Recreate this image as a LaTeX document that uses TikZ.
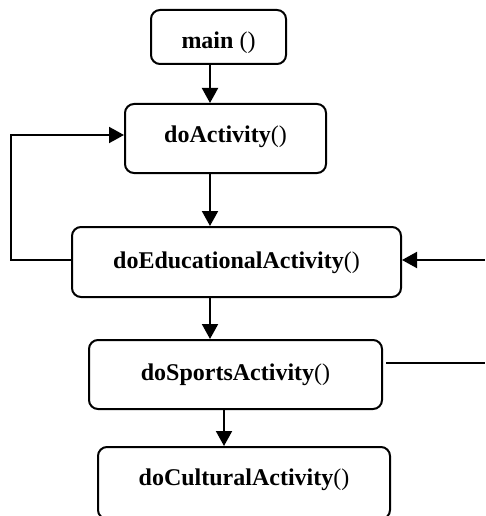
\documentclass[tikz,border=0pt]{standalone}
\usepackage{fontspec}
\setmainfont{Liberation Serif}
\usetikzlibrary{arrows.meta}
\tikzset{
  fbox/.style={draw, line width=2pt, rounded corners=9pt, inner sep=0pt, font=\fontsize{24}{26}\selectfont\bfseries},
  arr/.style={line width=2pt, -{Triangle[width=16pt,length=15pt]}},
}
\newcommand{\pp}{{\mdseries()}}
\newcommand{\bl}[2]{\raisebox{-#1}[8pt][8pt]{#2}}
\begin{document}
\begin{tikzpicture}[x=1pt,y=-1pt]
\useasboundingbox (0,0) rectangle (485,516);
\node[fbox, minimum width=135pt, minimum height=54pt] (main) at (218.5,37) {\bl{12pt}{main \pp}};
\node[fbox, minimum width=201pt, minimum height=69pt] (act) at (225.5,138.5) {\bl{4.5pt}{doActivity\pp}};
\node[fbox, minimum width=329pt, minimum height=70pt] (edu) at (236.5,262) {\bl{6pt}{doEducationalActivity\pp}};
\node[fbox, minimum width=293pt, minimum height=69pt] (spo) at (235.5,374.5) {\bl{5.5pt}{doSportsActivity\pp}};
\node[fbox, minimum width=292pt, minimum height=72pt] (cul) at (244,483) {\bl{2pt}{doCulturalActivity\pp}};
\coordinate (xa) at (210,0);
\coordinate (xb) at (224,0);
\coordinate (lx) at (11,0);
\coordinate (ya) at (0,135);
\coordinate (ye) at (0,260);
\coordinate (ys) at (0,363);
\coordinate (rin) at (485,260);
\coordinate (rout) at (485,363);
\draw[arr] (main.south -| xa) -- (act.north -| xa);
\draw[arr] (act.south -| xa) -- (edu.north -| xa);
\draw[arr] (edu.south -| xa) -- (spo.north -| xa);
\draw[arr] (spo.south -| xb) -- (cul.north -| xb);
\draw[arr] (edu.west |- ye) -| (lx |- ya) -- (act.west |- ya);
\draw[arr] (rin) -- (edu.east |- rin);
\draw[line width=1.5pt] ([xshift=3pt]spo.east |- ys) -- (rout);
\end{tikzpicture}
\end{document}
